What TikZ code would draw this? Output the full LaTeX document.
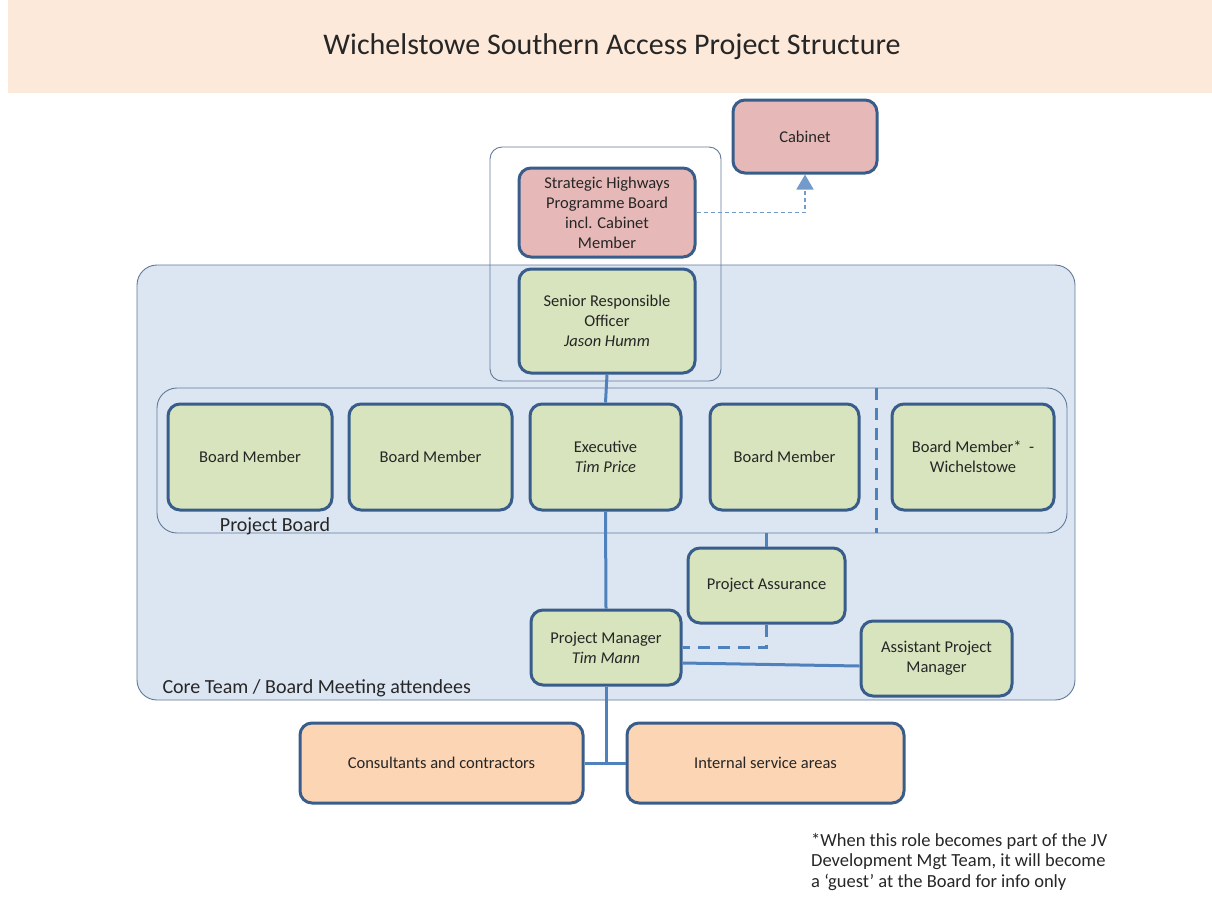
\documentclass[tikz,border=0pt]{standalone}
\usepackage{fontspec}
\setmainfont{Carlito}
\usetikzlibrary{arrows.meta}

\definecolor{bandpeach}{RGB}{253,233,217}
\definecolor{coreblue}{RGB}{220,230,242}
\definecolor{rimblue}{RGB}{56,93,138}
\definecolor{linkblue}{RGB}{79,129,189}
\definecolor{groupgrey}{RGB}{96,120,150}
\definecolor{rolegreen}{RGB}{215,228,189}
\definecolor{rolepink}{RGB}{230,185,184}
\definecolor{roleorange}{RGB}{252,213,180}

\tikzset{
  role/.style={draw=rimblue, line width=3pt, rounded corners=12pt, align=center,
    font=\fontsize{16.5}{20}\selectfont, text=black!85},
  rolegr/.style={role, fill=rolegreen},
  rolepk/.style={role, fill=rolepink},
  roleor/.style={role, fill=roleorange},
  panel/.style={draw=groupgrey, line width=0.9pt, rounded corners=20pt},
  link/.style={draw=linkblue, line width=3pt},
  dashlink/.style={link, dash pattern=on 12pt off 8pt},
}

\begin{document}
\begin{tikzpicture}[x=1pt,y=-1pt]
	\useasboundingbox (0,0) rectangle (1212,898);
	% Title band
	\fill[bandpeach] (8,0) rectangle (1212,93);
	\node[font=\fontsize{30}{34}\selectfont, text=black!85] (title) at (612,47) {Wichelstowe Southern Access Project Structure};

	% Core team area and groups
	\node[panel, fill=coreblue, minimum width=938, minimum height=435] (core) at (606,482.5) {};
	\node[panel, rounded corners=12pt, minimum width=231, minimum height=234] (sponsor) at (605.5,264) {};
	\node[panel, minimum width=910, minimum height=145] (board) at (612,460.5) {};
	\coordinate (split) at (876,0);
	\draw[dashlink] (board.north -| split) -- (board.south -| split);

	\node[font=\fontsize{20}{22}\selectfont, text=black!85] (boardlbl) at (275,526) {Project Board};
	\node[font=\fontsize{20}{22}\selectfont, text=black!85, anchor=west] (corelbl) at (159,688) {Core Team / Board Meeting attendees};

	% Roles
	\node[rolepk, minimum width=144, minimum height=73] (cab) at (805,136.5) {Cabinet};
	\node[rolepk, minimum width=176, minimum height=89] (shpb) at (607,212.5) {Strategic Highways\\Programme Board\\incl. Cabinet\\Member};
	\node[rolegr, minimum width=176, minimum height=104] (sro) at (607,321) {Senior Responsible\\Officer\\\textit{Jason Humm}};

	\node[rolegr, minimum width=164, minimum height=106] (bm1) at (250,457) {Board Member};
	\node[rolegr, minimum width=163, minimum height=106] (bm2) at (430.5,457) {Board Member};
	\node[rolegr, minimum width=151, minimum height=106] (exec) at (605.5,457) {Executive\\\textit{Tim Price}};
	\node[rolegr, minimum width=149, minimum height=106] (bm3) at (784.5,457) {Board Member};
	\node[rolegr, minimum width=162, minimum height=106] (bmw) at (973,457) {Board Member* ~-\\Wichelstowe};

	\node[rolegr, minimum width=157, minimum height=75] (pa) at (766.5,585.5) {Project Assurance};
	\node[rolegr, minimum width=150, minimum height=75] (pm) at (606,647.5) {Project Manager\\\textit{Tim Mann}};
	\node[rolegr, minimum width=151, minimum height=75] (apm) at (936.5,658.5) {Assistant Project\\Manager};

	\node[roleor, minimum width=283, minimum height=80] (cons) at (441.5,763) {Consultants and contractors};
	\node[roleor, minimum width=277, minimum height=80] (isa) at (765.5,763) {Internal service areas};

	% Connectors
	\draw[link] (sro.south) -- (exec.north);
	\draw[link] (exec.south) -- (pm.north);
	\draw[link] (pa.north) -- (pa.north |- board.south);
	\draw[dashlink] (pa.south) -- (pa.south |- pm.east) -- (pm.east);
	\draw[link] ([yshift=-15.5pt]pm.east) -- ([yshift=-7.5pt]apm.west);
	\coordinate (fork) at (pm.south |- cons.east);
	\draw[link] (pm.south) -- (fork);
	\draw[link] (cons.east) -- (isa.west);
	\draw[draw=linkblue!80, line width=1.6pt, dash pattern=on 4pt off 3pt, -{Triangle[width=17pt,length=15pt]}]
		(shpb.east) -| (cab.south);

	% Footnote
	\node[anchor=north west, align=left, font=\fontsize{18.5}{20.5}\selectfont, text=black!85, inner sep=0pt] (note) at (811,833)
		{*When this role becomes part of the JV\\Development Mgt Team, it will become\\a `guest' at the Board for info only};
\end{tikzpicture}
\end{document}
